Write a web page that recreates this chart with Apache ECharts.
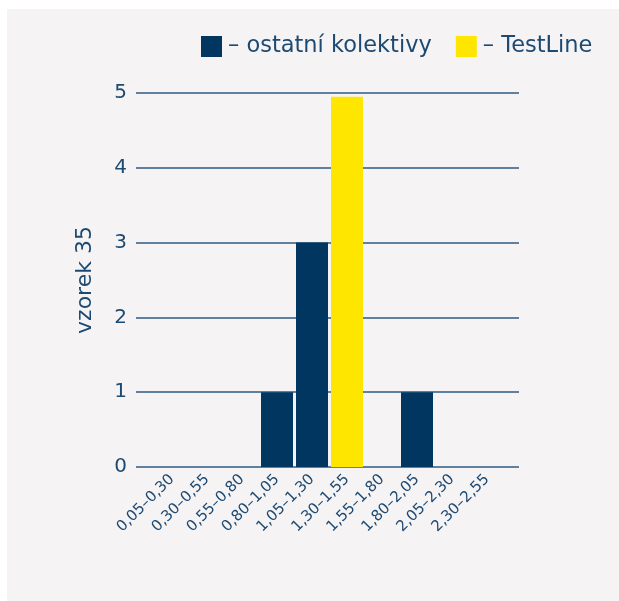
<!DOCTYPE html>
<html>
<head>
<meta charset="utf-8">
<script src="https://cdn.jsdelivr.net/npm/echarts@6/dist/echarts.min.js"></script>
<style>
html,body{margin:0;padding:0;background:#ffffff;}
#bg{position:absolute;left:7px;top:9px;width:612px;height:592px;background:#f5f3f4;}
#chart{position:absolute;left:0;top:0;width:619px;height:601px;}
</style>
</head>
<body>
<div id="bg"></div>
<div id="chart"></div>
<script>
const categories = ['0,05–0,30','0,30–0,55','0,55–0,80','0,80–1,05','1,05–1,30','1,30–1,55','1,55–1,80','1,80–2,05','2,05–2,30','2,30–2,55'];
const otherValues = [0, 0, 0, 1, 3, 0, 0, 1, 0, 0];
const testLineValues = [0, 0, 0, 0, 0, 4.95, 0, 0, 0, 0];
const yTicks = [0, 1, 2, 3, 4, 5];
const seriesNames = ['ostatní kolektivy', 'TestLine'];
const yAxisName = 'vzorek 35';

const textColor = '#1d4a72';
const FONT = '"DejaVu Sans"';
const chart = echarts.init(document.getElementById('chart'), null, {renderer:'canvas'});
chart.setOption({
  backgroundColor: 'transparent',
  animation: false,
  textStyle: {fontFamily: FONT},
  legend: {
    left: 201, top: 35, padding: 0,
    itemWidth: 21, itemHeight: 21, itemGap: 24,
    icon: 'rect',
    data: seriesNames,
    formatter: n => '– ' + n,
    textStyle: {color: textColor, fontSize: 22.5, fontFamily: FONT, padding: [0, 0, 0, 1]}
  },
  grid: [
    {left: 136, right: 100, top: 93, bottom: 134},
    {left: 154.5, right: 114.5, top: 93, bottom: 134}
  ],
  xAxis: [
    {gridIndex: 0, type: 'value', show: false, min: 0, max: 1},
    {gridIndex: 1, type: 'category', data: categories,
     axisLine: {show: false}, axisTick: {show: false},
     axisLabel: {rotate: 45, color: textColor, fontSize: 15, margin: 10, interval: 0, fontFamily: FONT}}
  ],
  yAxis: [
    {gridIndex: 0, type: 'value', min: yTicks[0], max: yTicks[yTicks.length-1], interval: 1,
     name: yAxisName, nameLocation: 'middle', nameGap: 40, nameRotate: 90,
     nameTextStyle: {color: textColor, fontSize: 22, fontFamily: FONT},
     axisLine: {show: false}, axisTick: {show: false},
     axisLabel: {color: textColor, fontSize: 20, margin: 9, fontFamily: FONT},
     splitLine: {lineStyle: {color: '#2c5a82', width: 1.5}}},
    {gridIndex: 1, type: 'value', min: 0, max: 5, show: false}
  ],
  series: [
    {name: seriesNames[0], type: 'bar', xAxisIndex: 1, yAxisIndex: 1,
     data: otherValues, barWidth: 32, barGap: '-100%', z: 3,
     itemStyle: {color: '#00365f'}},
    {name: seriesNames[1], type: 'bar', xAxisIndex: 1, yAxisIndex: 1,
     data: testLineValues, barWidth: 32, barGap: '-100%', z: 3,
     itemStyle: {color: '#ffe600'}}
  ]
});
</script>
</body>
</html>
